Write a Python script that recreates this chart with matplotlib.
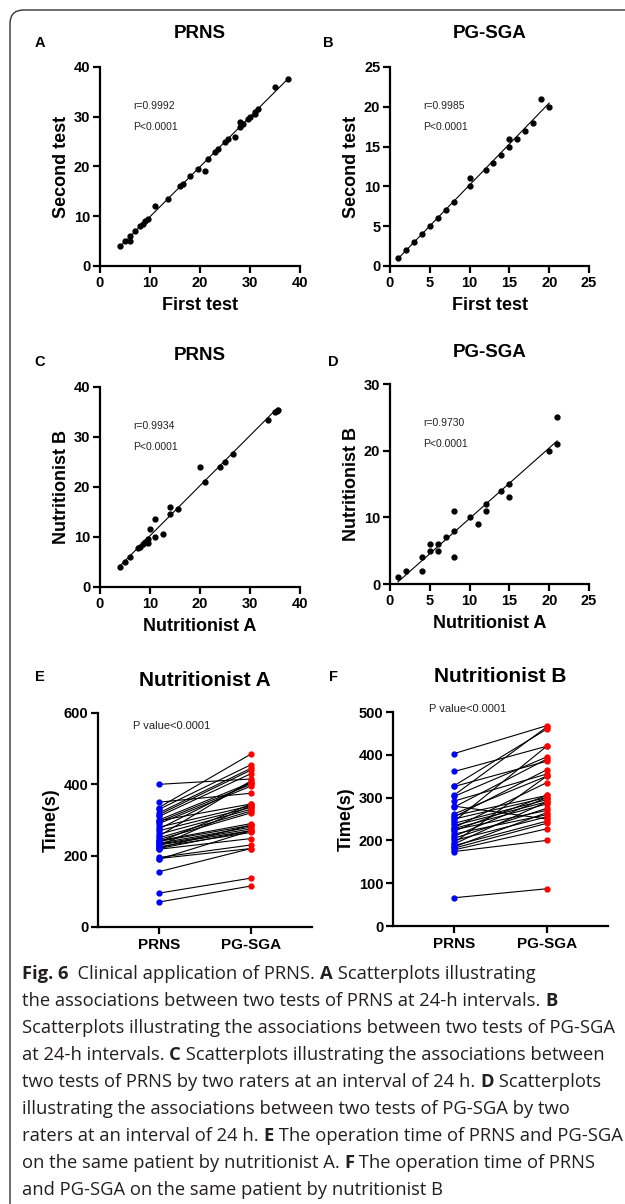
import numpy as np
import matplotlib
matplotlib.use("Agg")
import matplotlib.pyplot as plt
from matplotlib.patches import FancyBboxPatch
from matplotlib import font_manager

# ---------------- data ----------------
a_first = [4, 5, 6, 6, 7, 8, 8.5, 9, 9.5, 11, 13.5, 16, 16.5, 18, 19.5, 21, 21.5, 23, 23.5,
           25, 25.5, 27, 28, 28, 28.5, 29.5, 30, 31, 31, 31.5, 35, 37.5]
a_second = [4, 5, 5, 6, 7, 8, 8.5, 9, 9.5, 12, 13.5, 16, 16.5, 18, 19.5, 19, 21.5, 23, 23.5,
            25, 25.5, 26, 29, 28, 28.5, 29.5, 30, 30.5, 31, 31.5, 36, 37.5]

b_first = [1, 2, 3, 4, 5, 6, 7, 8, 10, 10, 12, 13, 14, 15, 15, 16, 17, 18, 19, 20]
b_second = [1, 2, 3, 4, 5, 6, 7, 8, 10, 11, 12, 13, 14, 15, 16, 16, 17, 18, 21, 20]

c_nutA = [4, 5, 6, 7.5, 8, 8.5, 9, 9.3, 9.5, 9.5, 10, 11, 11, 12.5, 14, 14, 15.5,
          20, 21, 24, 25, 26.5, 33.5, 35, 35.3, 35.5]
c_nutB = [4, 5, 6, 7.7, 8, 8.5, 9, 9.2, 8.7, 9.5, 11.5, 13.5, 10, 10.5, 14.5, 16, 15.5,
          24, 21, 24, 25, 26.5, 33.5, 35, 35.3, 35.5]

d_nutA = [1, 2, 4, 4, 5, 5, 6, 6, 7, 8, 8, 8, 10, 11, 12, 12, 14, 15, 15, 20, 21, 21]
d_nutB = [1, 2, 4, 2, 5, 6, 6, 5, 7, 8, 11, 4, 10, 9, 12, 11, 14, 15, 13, 20, 21, 25]

e_prns = [400, 350, 335, 330, 320, 315, 310, 300, 298, 295, 290, 280, 275, 270, 260, 255,
          250, 245, 242, 240, 238, 235, 232, 230, 228, 225, 222, 220, 218, 195, 192, 190,
          155, 95, 70]
e_pgsga = [415, 375, 485, 455, 445, 440, 430, 405, 345, 400, 395, 340, 405, 335, 330, 410,
           325, 320, 290, 285, 345, 280, 275, 270, 340, 265, 285, 270, 248, 230, 220, 270,
           220, 137, 115]

f_prns = [403, 361, 328, 326, 306, 303, 292, 280, 278, 262, 258, 255, 250, 245, 240, 235,
          230, 228, 225, 222, 215, 210, 205, 200, 195, 192, 188, 185, 182, 178, 174, 66]
f_pgsga = [468, 420, 460, 385, 465, 395, 355, 250, 390, 350, 305, 365, 300, 420, 295, 290,
           335, 285, 270, 305, 260, 300, 275, 255, 350, 290, 245, 265, 240, 227, 200, 87]

categories = ["PRNS", "PG-SGA"]

# ---------------- figure ----------------
W, H = 625, 1204
plt.rcParams['font.family'] = ['Liberation Sans', 'DejaVu Sans']
plt.rcParams['font.weight'] = 'bold'
fig = plt.figure(figsize=(W / 100, H / 100), dpi=100)

def px_axes(x0, x1, y_top, y_bot):
    return fig.add_axes([x0 / W, 1 - y_bot / H, (x1 - x0) / W, (y_bot - y_top) / H])

# border
box = FancyBboxPatch((10 / W, -20 / H), 640 / W, (H - 10 + 20) / H,
                     boxstyle="round,pad=0,rounding_size=0.022",
                     transform=fig.transFigure, fill=False, lw=1.0,
                     edgecolor="#333333", mutation_aspect=W / H)
fig.patches.append(box)

def style(ax):
    for s in ["top", "right"]:
        ax.spines[s].set_visible(False)
    for s in ["left", "bottom"]:
        ax.spines[s].set_linewidth(1.6)
    ax.tick_params(direction="out", length=5, width=1.6, labelsize=10.5, pad=2)

def scatter_panel(ax, x, y, xmax, ymax, xstep, ystep, xlabel, ylabel, title, letter,
                  rtext, rpos, ppos, letter_xy, title_xy):
    x = np.asarray(x, float); y = np.asarray(y, float)
    ax.plot(x, y, "o", color="black", ms=3.5, zorder=3, clip_on=False)
    k, b = np.polyfit(x, y, 1)
    xx = np.array([x.min(), x.max()])
    ax.plot(xx, k * xx + b, color="black", lw=0.8)
    ax.set_xlim(0, xmax); ax.set_ylim(0, ymax)
    ax.set_xticks(np.arange(0, xmax + 0.1, xstep))
    ax.set_yticks(np.arange(0, ymax + 0.1, ystep))
    style(ax)
    ax.set_xlabel(xlabel, fontsize=13, fontweight="bold", labelpad=5)
    ax.set_ylabel(ylabel, fontsize=13, fontweight="bold", labelpad=3)
    ax.text(rpos[0], rpos[1], rtext, fontsize=7.5, va="center", ha="left", color="#222222",
            fontweight="normal")
    ax.text(ppos[0], ppos[1], "P<0.0001", fontsize=7.5, va="center", ha="left", color="#222222",
            fontweight="normal")
    fig.text(letter_xy[0] / W, 1 - letter_xy[1] / H, letter, fontsize=10.5, fontweight="bold",
             ha="center", va="center")
    fig.text(title_xy[0] / W, 1 - title_xy[1] / H, title, fontsize=13.5, fontweight="bold",
             ha="center", va="center")

axA = px_axes(100, 300, 67, 266)
scatter_panel(axA, a_first, a_second, 40, 40, 10, 10, "First test", "Second test", "PRNS", "A",
              "r=0.9992", (6.6, 32.2), (6.6, 27.9), (40, 43), (200, 33))
axB = px_axes(390, 589, 67, 266)
scatter_panel(axB, b_first, b_second, 25, 25, 5, 5, "First test", "Second test", "PG-SGA", "B",
              "r=0.9985", (4.15, 20.1), (4.15, 17.5), (328, 43), (490, 33))
axC = px_axes(100, 300, 387, 587)
scatter_panel(axC, c_nutA, c_nutB, 40, 40, 10, 10, "Nutritionist A", "Nutritionist B", "PRNS", "C",
              "r=0.9934", (6.6, 32.2), (6.6, 28.0), (40, 362), (200, 355))
axD = px_axes(390, 589, 384, 584)
scatter_panel(axD, d_nutA, d_nutB, 25, 30, 5, 10, "Nutritionist A", "Nutritionist B", "PG-SGA", "D",
              "r=0.9730", (4.15, 24.2), (4.15, 21.0), (333, 362), (490, 353))

def paired_panel(ax, pre, post, ymax, ystep, title, letter, letter_xy, title_xy, ptxt_xy):
    for a, b in zip(pre, post):
        ax.plot([0, 1], [a, b], color="black", lw=0.8, zorder=2)
    ax.plot(np.zeros(len(pre)), pre, "o", color="#0000ff", ms=3.5, zorder=3, clip_on=False)
    ax.plot(np.ones(len(post)), post, "o", color="#ff0000", ms=3.5, zorder=3, clip_on=False)
    ax.set_xlim(-0.663, 1.663)
    ax.set_ylim(0, ymax)
    ax.set_xticks([0, 1])
    ax.set_xticklabels(categories)
    ax.set_yticks(np.arange(0, ymax + 1, ystep))
    style(ax)
    ax.tick_params(axis="x", labelsize=11, pad=3)
    ax.set_ylabel("Time(s)", fontsize=13, fontweight="bold", labelpad=3)
    ax.text(ptxt_xy[0], ptxt_xy[1], "P value<0.0001", fontsize=8, va="center", ha="left",
            color="#222222", clip_on=False, fontweight="normal")
    fig.text(letter_xy[0] / W, 1 - letter_xy[1] / H, letter, fontsize=10.5, fontweight="bold",
             ha="center", va="center")
    fig.text(title_xy[0] / W, 1 - title_xy[1] / H, title, fontsize=15, fontweight="bold",
             ha="center", va="center")

axE = px_axes(98, 312, 713, 927)
paired_panel(axE, e_prns, e_pgsga, 600, 200, "Nutritionist A", "E", (40, 677), (205, 680),
             (-0.28, 563))
axF = px_axes(393, 608, 712, 926)
paired_panel(axF, f_prns, f_pgsga, 500, 100, "Nutritionist B", "F", (333, 677), (500, 677),
             (-0.27, 507))

# ---------------- caption ----------------
cap_lines = [
    [("Fig. 6", True), ("  Clinical application of PRNS. ", False), ("A", True),
     (" Scatterplots illustrating", False)],
    [("the associations between two tests of PRNS at 24-h intervals. ", False), ("B", True)],
    [("Scatterplots illustrating the associations between two tests of PG-SGA", False)],
    [("at 24-h intervals. ", False), ("C", True),
     (" Scatterplots illustrating the associations between", False)],
    [("two tests of PRNS by two raters at an interval of 24 h. ", False), ("D", True),
     (" Scatterplots", False)],
    [("illustrating the associations between two tests of PG-SGA by two", False)],
    [("raters at an interval of 24 h. ", False), ("E", True),
     (" The operation time of PRNS and PG-SGA", False)],
    [("on the same patient by nutritionist A. ", False), ("F", True),
     (" The operation time of PRNS", False)],
    [("and PG-SGA on the same patient by nutritionist B", False)],
]

def has_font(name):
    try:
        font_manager.findfont(font_manager.FontProperties(family=name), fallback_to_default=False)
        return True
    except Exception:
        return False

cap_font = "Liberation Sans Narrow" if has_font("Liberation Sans Narrow") else "Open Sans"
renderer = fig.canvas.get_renderer()

def line_width(segs, size):
    tot = 0
    for s, bold in segs:
        t = fig.text(0, 0, s, fontsize=size, family=cap_font,
                     fontweight="bold" if bold else "normal")
        tot += t.get_window_extent(renderer).width
        t.remove()
    return tot

target = 592.0
size = 13.0
wmax = line_width(cap_lines[2], size)
size = size * target / wmax

y0 = 972
for i, segs in enumerate(cap_lines):
    x = 22.0
    y = y0 + 27 * i
    for s, bold in segs:
        t = fig.text(x / W, 1 - y / H, s, fontsize=size, family=cap_font,
                     fontweight="bold" if bold else "normal", ha="left", va="center_baseline",
                     color="#231f20")
        x += t.get_window_extent(renderer).width

fig.savefig("out.png", dpi=100)
